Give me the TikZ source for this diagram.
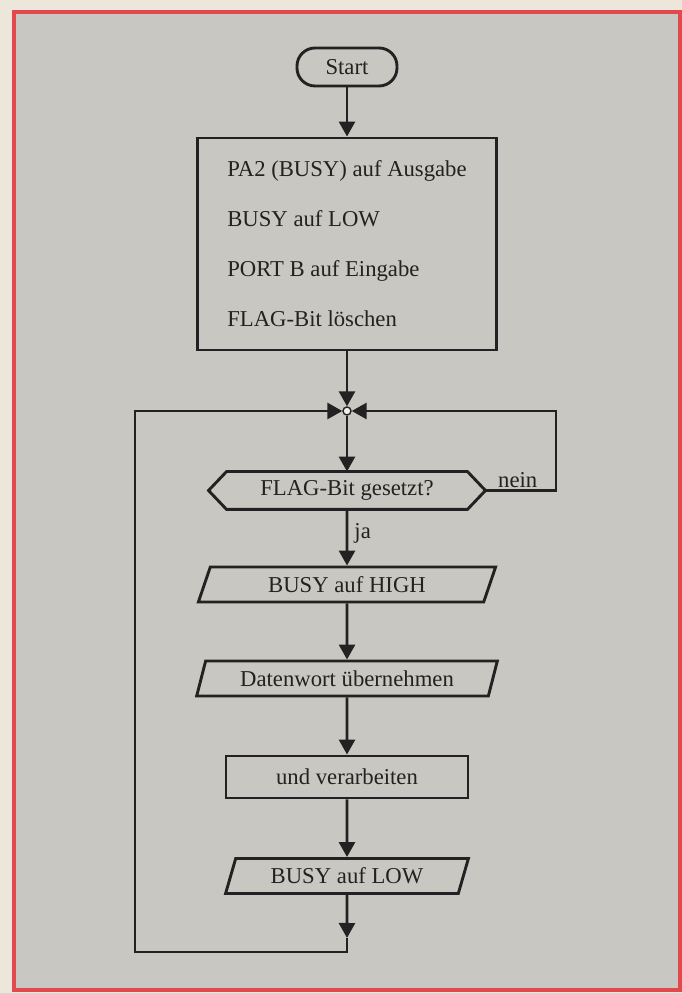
\documentclass[tikz,border=0pt]{standalone}
\usepackage{fontspec}
\setmainfont{Liberation Serif}
\usetikzlibrary{arrows.meta,shapes}
\definecolor{paper}{RGB}{237,231,219}
\definecolor{card}{RGB}{201,199,193}
\definecolor{frame}{RGB}{226,72,76}
\definecolor{ink}{RGB}{34,34,34}

\begin{document}
\begin{tikzpicture}[>={Triangle[length=15bp,width=16bp]}, line width=2.9bp, color=ink]
      \tikzstyle{every node}=[font=\fontsize{22.7bp}{27bp}\selectfont]
      \tikzstyle{box}=[draw, rectangle, inner sep=0pt]
      \tikzstyle{io}=[draw, trapezium, trapezium left angle=67, trapezium right angle=113, trapezium stretches=true, inner sep=0pt, minimum height=35bp]
      %%
\useasboundingbox (0bp,0bp) rectangle (682bp,993bp);
\fill [paper] (0bp,0bp) rectangle (682bp,993bp);
\fill [card] (14bp,3bp) rectangle (680bp,981bp);
\draw [frame, line width=4bp] (14bp,3bp) rectangle (680bp,981bp);
%
  \node (f_start) at (347bp,926bp) [draw, rounded corners=18bp, minimum width=100bp, minimum height=38bp, inner sep=0pt] {Start};
  \node (f_init) at (347bp,749bp) [box, minimum width=299bp, minimum height=212bp, align=left, font=\fontsize{22.7bp}{50bp}\selectfont] {PA2 (BUSY) auf Ausgabe\\BUSY auf LOW\\PORT B auf Eingabe\\FLAG-Bit löschen};
  \node (f_join) at (347bp,582bp) [draw, circle, fill=white!70!card, inner sep=0pt, minimum size=8bp, line width=1.4bp] {};
  \node (f_test) at (347bp,502.5bp) [minimum width=238bp, minimum height=35bp, inner sep=0pt] {FLAG-Bit gesetzt?};
  \node (f_high) at (347bp,408.5bp) [io, minimum width=298bp] {BUSY auf HIGH};
  \node (f_word) at (347bp,314.5bp) [io, minimum width=301bp] {Datenwort übernehmen};
  \node (f_proc) at (347bp,216bp) [box, minimum width=242bp, minimum height=42bp] {und verarbeiten};
  \node (f_low) at (347bp,117bp) [io, minimum width=243bp] {BUSY auf LOW};
  \coordinate (f_tip) at (347bp,55bp);
  \coordinate (f_back) at (135bp,41bp);
  \coordinate (f_nein) at (556bp,502.5bp);
  \draw (f_test.north west) -- (f_test.north east) -- ([xshift=18bp]f_test.east) -- (f_test.south east) -- (f_test.south west) -- ([xshift=-18bp]f_test.west) -- cycle;
  \draw [->] (f_start) -- (f_init);
  \draw [->] (f_init) -- (f_join);
  \draw [->] (f_join) -- (f_test);
  \draw [->] (f_test) -- node [right, pos=0.42, inner sep=6bp] {ja} (f_high);
  \draw [->] (f_high) -- (f_word);
  \draw [->] (f_word) -- (f_proc);
  \draw [->] (f_proc) -- (f_low);
  \draw [->] (f_low) -- (f_tip);
  \draw [->] (f_tip) |- (f_back) |- (f_join);
  \draw [->] ([xshift=18bp]f_test.east) -- node [above, inner sep=1bp, xshift=-3bp] {nein} (f_nein) |- (f_join);
%

    \end{tikzpicture}
\end{document}
